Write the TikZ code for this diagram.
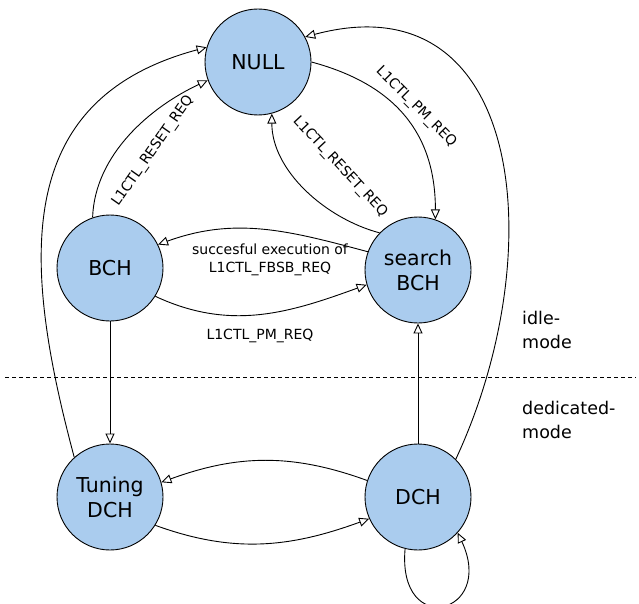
\documentclass[tikz,border=0pt]{standalone}
\usepackage{fontspec}
\setmainfont{DejaVu Sans}
\usetikzlibrary{arrows.meta}
\definecolor{stfill}{RGB}{170,204,238}
\begin{document}
\begin{tikzpicture}[x=1pt,y=1pt,
  state/.style={circle,draw=black,line width=0.9pt,fill=stfill,minimum size=106pt,inner sep=0pt,align=center,font=\fontsize{20.5}{25}\selectfont},
  tr/.style={draw=black,line width=0.9pt,-{Triangle[open,length=10pt,width=9pt]}},
  lbl/.style={font=\fontsize{14}{18}\selectfont,inner sep=1pt},
  side/.style={font=\fontsize{17.5}{24}\selectfont,anchor=west,align=left,inner sep=0pt}]
\useasboundingbox (0,0) rectangle (639,-604);
\node[state] (null) at (258,-62) {NULL};
\node[state] (bch) at (110,-268) {BCH};
\node[state] (sbch) at (418,-270) {search\\BCH};
\node[state] (tdch) at (110,-497) {Tuning\\DCH};
\node[state] (dch) at (418,-497) {DCH};
\coordinate (dl) at (5,-377);
\coordinate (dr) at (636,-377);
\draw[dashed,line width=0.8pt,dash pattern=on 4pt off 3pt] (dl) -- (dr);
\node[side] (idle) at (522,-330) {idle-\\mode};
\node[side] (ded) at (522,-420) {dedicated-\\mode};
% edges
\draw[tr] (tdch.132) to[out=105,in=195,looseness=1.2] (null.164);
\draw[tr] (bch.109) to[out=88,in=205,looseness=0.9] (null.200);
\draw[tr] (sbch.136) to[out=165,in=-90,looseness=0.9] (null.285);
\draw[tr] (null.0) to[out=-15,in=90,looseness=1.1] (sbch.71);
\draw[tr] (sbch.160) to[out=165,in=20,looseness=1] (bch.26);
\draw[tr] (bch.-32) to[out=-25,in=200,looseness=1] (sbch.196);
\draw[tr] (bch) -- (tdch);
\draw[tr] (dch) -- (sbch);
\draw[tr] (dch.45) to[out=65,in=15,looseness=1.3] (null.28);
\draw[tr] (dch.162) to[out=160,in=20,looseness=1] (tdch.16);
\draw[tr] (tdch.-32) to[out=-20,in=200,looseness=1] (dch.204);
\draw[tr] (dch.-104) to[out=-95,in=-65,looseness=4.2] (dch.-42);
% labels
\node[lbl,rotate=55] (l1) at (153,-151) {L1CTL\_RESET\_REQ};
\node[lbl,rotate=-47] (l2) at (340,-167) {L1CTL\_RESET\_REQ};
\node[lbl,rotate=-45] (l3) at (416,-107) {L1CTL\_PM\_REQ};
\node[lbl,align=center] (l4) at (270,-260) {succesful execution of\\L1CTL\_FBSB\_REQ};
\node[lbl] (l5) at (260,-336) {L1CTL\_PM\_REQ};
\end{tikzpicture}
\end{document}
